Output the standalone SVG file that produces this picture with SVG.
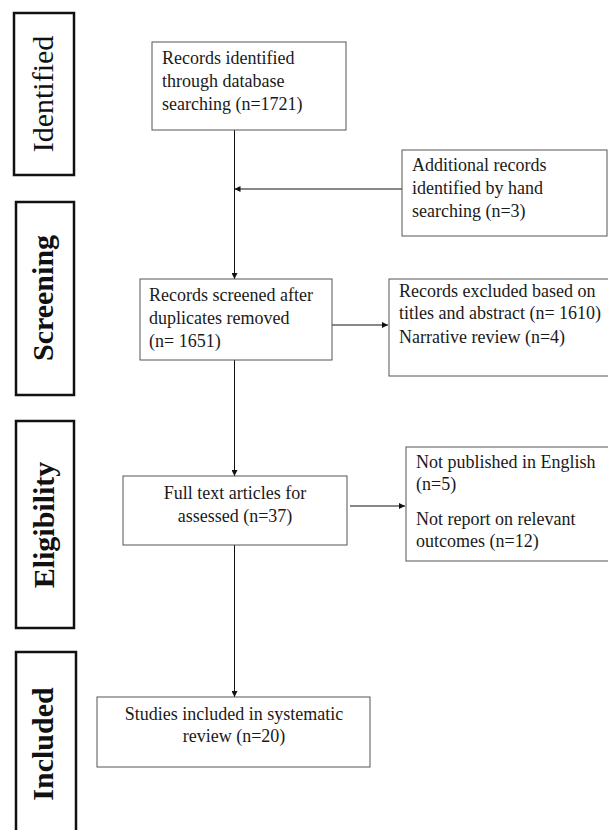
<svg xmlns="http://www.w3.org/2000/svg" width="608" height="830" viewBox="0 0 608 830">
  <defs>
    <marker id="arr" viewBox="0 0 10 10" refX="10" refY="5" markerWidth="6" markerHeight="6" markerUnits="userSpaceOnUse" orient="auto">
      <path d="M0,0 L10,5 L0,10 z" fill="#111"/>
    </marker>
    <style>
      .stage { fill: #fff; stroke: #111; stroke-width: 2.5; }
      .stxt { font-family: "Liberation Serif", "Times New Roman", serif; font-size: 30px; font-weight: bold; fill: #111; text-anchor: middle; }
      .box { fill: #fff; stroke: #555; stroke-width: 1; }
      .t { font-family: "Liberation Serif", "Times New Roman", serif; font-size: 18px; fill: #1a1a1a; }
      .c { text-anchor: middle; }
      .con { fill: none; stroke: #111; stroke-width: 1; }
    </style>
  </defs>
  <rect width="608" height="830" fill="#fff"/>

  <g id="stage-identified">
    <rect class="stage" x="14" y="13" width="60" height="162"/>
    <text class="stxt" style="font-weight:normal" transform="translate(53,94) rotate(-90)">Identified</text>
  </g>
  <g id="stage-screening">
    <rect class="stage" x="16" y="202" width="58" height="193"/>
    <text class="stxt" transform="translate(53,298) rotate(-90)">Screening</text>
  </g>
  <g id="stage-eligibility">
    <rect class="stage" x="16" y="421" width="58" height="207"/>
    <text class="stxt" transform="translate(54,525) rotate(-90)">Eligibility</text>
  </g>
  <g id="stage-included">
    <rect class="stage" x="16" y="652" width="60" height="190"/>
    <text class="stxt" transform="translate(53,744) rotate(-90)">Included</text>
  </g>

  <g id="connectors">
    <line class="con" x1="234.5" y1="130" x2="234.5" y2="279" marker-end="url(#arr)"/>
    <line class="con" x1="402" y1="189" x2="234.5" y2="189" marker-end="url(#arr)"/>
    <line class="con" x1="332" y1="325" x2="388" y2="325" marker-end="url(#arr)"/>
    <line class="con" x1="234.5" y1="360" x2="234.5" y2="476" marker-end="url(#arr)"/>
    <line class="con" x1="350" y1="506" x2="405" y2="506" marker-end="url(#arr)"/>
    <line class="con" x1="234.5" y1="545" x2="234.5" y2="697" marker-end="url(#arr)"/>
  </g>

  <g id="node-identified">
    <rect class="box" x="152" y="42" width="194" height="88"/>
    <text class="t" x="162" y="64">Records identified</text>
    <text class="t" x="162" y="87">through database</text>
    <text class="t" x="162" y="110">searching (n=1721)</text>
  </g>
  <g id="node-additional">
    <rect class="box" x="402" y="150" width="205" height="86"/>
    <text class="t" x="412" y="171">Additional records</text>
    <text class="t" x="412" y="194">identified by hand</text>
    <text class="t" x="412" y="217">searching (n=3)</text>
  </g>
  <g id="node-screened">
    <rect class="box" x="140" y="279" width="192" height="81"/>
    <text class="t" x="149" y="301">Records screened after</text>
    <text class="t" x="149" y="324">duplicates removed</text>
    <text class="t" x="149" y="347">(n= 1651)</text>
  </g>
  <g id="node-excluded">
    <rect class="box" x="389" y="279" width="225" height="97"/>
    <text class="t" x="399" y="297">Records excluded based on</text>
    <text class="t" x="399" y="319">titles and abstract (n= 1610)</text>
    <text class="t" x="399" y="343">Narrative review (n=4)</text>
  </g>
  <g id="node-fulltext">
    <rect class="box" x="123" y="476" width="224" height="69"/>
    <text class="t c" x="235" y="499">Full text articles for</text>
    <text class="t c" x="235" y="522">assessed (n=37)</text>
  </g>
  <g id="node-notpublished">
    <rect class="box" x="406" y="447" width="210" height="114"/>
    <text class="t" x="416" y="468">Not published in English</text>
    <text class="t" x="416" y="490">(n=5)</text>
    <text class="t" x="416" y="525">Not report on relevant</text>
    <text class="t" x="416" y="547">outcomes (n=12)</text>
  </g>
  <g id="node-included">
    <rect class="box" x="97" y="697" width="273" height="70"/>
    <text class="t c" x="234" y="720">Studies included in systematic</text>
    <text class="t c" x="234" y="742">review (n=20)</text>
  </g>
</svg>
